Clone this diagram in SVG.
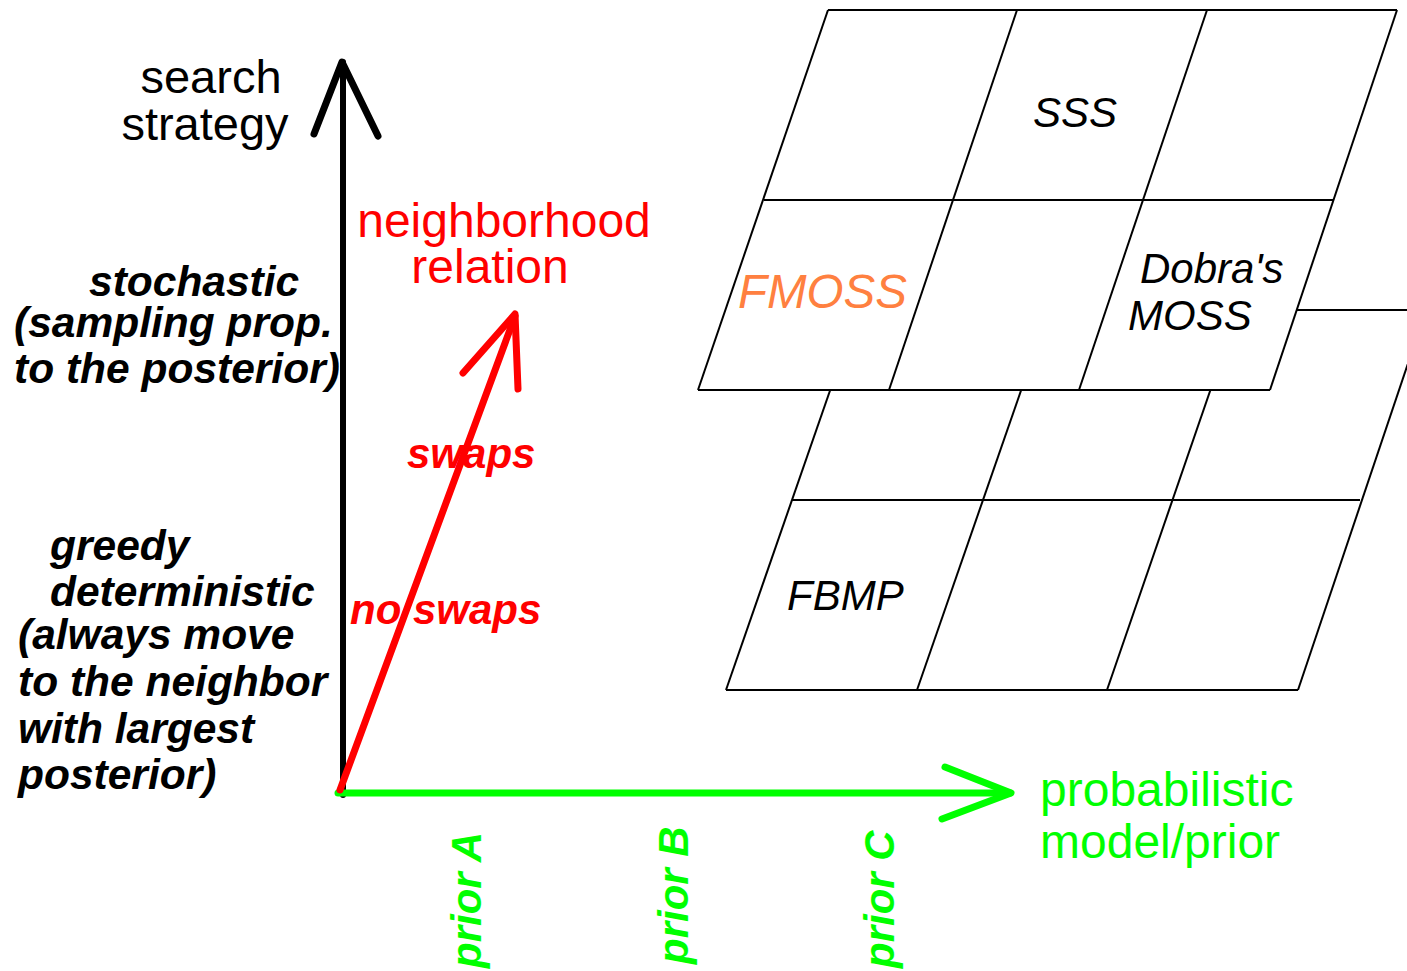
<svg xmlns="http://www.w3.org/2000/svg" width="1407" height="971" viewBox="0 0 1407 971">
  <style>
    text { font-family: "Liberation Sans", Arial, sans-serif; }
    .grid { stroke: #000; stroke-width: 2; fill: none; }
    .cellbg { fill: #fff; stroke: none; }
    .axis-label { font-size: 47px; }
    .mode { font-size: 42.5px; font-weight: bold; font-style: italic; fill: #000; }
    .nbr { font-size: 42px; font-weight: bold; font-style: italic; fill: #ff0000; }
    .method { font-size: 42px; font-style: italic; fill: #000; }
    .prior { font-size: 42px; font-weight: bold; font-style: italic; fill: #00ff00; }
    .arrow { fill: none; stroke-linecap: round; stroke-linejoin: round; }
  </style>

  <rect width="1407" height="971" fill="#fff"/>

  <!-- lower plane of methods (partly hidden behind the upper one) -->
  <g id="lower-plane">
    <polygon class="cellbg" points="858,310 1426,310 1298,690 726,690"/>
    <line class="grid" x1="858" y1="310" x2="1426" y2="310"/>
    <line class="grid" x1="792" y1="500" x2="1360" y2="500"/>
    <line class="grid" x1="726" y1="690" x2="1298" y2="690"/>
    <line class="grid" x1="858" y1="310" x2="726" y2="690"/>
    <line class="grid" x1="1049" y1="310" x2="917" y2="690"/>
    <line class="grid" x1="1238" y1="310" x2="1107" y2="690"/>
    <line class="grid" x1="1426" y1="310" x2="1298" y2="690"/>
  </g>

  <!-- upper plane of methods -->
  <g id="upper-plane">
    <polygon class="cellbg" points="828,10 1397,10 1270,390 698,390"/>
    <line class="grid" x1="828" y1="10" x2="1397" y2="10"/>
    <line class="grid" x1="764" y1="200" x2="1333" y2="200"/>
    <line class="grid" x1="698" y1="390" x2="1270" y2="390"/>
    <line class="grid" x1="828" y1="10" x2="698" y2="390"/>
    <line class="grid" x1="1017" y1="10" x2="889" y2="390"/>
    <line class="grid" x1="1207" y1="10" x2="1079" y2="390"/>
    <line class="grid" x1="1397" y1="10" x2="1270" y2="390"/>
  </g>

  <!-- method names in the cells -->
  <g id="node-sss"><text class="method" x="1033" y="127">SSS</text></g>
  <g id="node-fmoss"><text class="method" x="738" y="308" style="fill:#ff8040;font-size:47.5px">FMOSS</text></g>
  <g id="node-dobra"><text class="method" x="1140" y="283">Dobra's</text><text class="method" x="1128" y="330">MOSS</text></g>
  <g id="node-fbmp"><text class="method" x="787" y="610">FBMP</text></g>

  <!-- axis titles -->
  <g id="label-search">
    <text class="axis-label" x="211" y="93" text-anchor="middle">search</text>
    <text class="axis-label" x="205" y="140" text-anchor="middle">strategy</text>
  </g>
  <g id="label-neighborhood">
    <text class="axis-label" x="504" y="237" text-anchor="middle" fill="#ff0000" style="font-size:48px">neighborhood</text>
    <text class="axis-label" x="490" y="283" text-anchor="middle" fill="#ff0000" style="font-size:48px">relation</text>
  </g>
  <g id="label-model">
    <text class="axis-label" x="1040" y="806" fill="#00ff00" style="font-size:48px">probabilistic</text>
    <text class="axis-label" x="1040" y="858" fill="#00ff00" style="font-size:48px">model/prior</text>
  </g>

  <!-- search strategy values -->
  <g id="label-stochastic">
    <text class="mode" x="89" y="296">stochastic</text>
    <text class="mode" x="14" y="337">(sampling prop.</text>
    <text class="mode" x="14" y="383">to the posterior)</text>
  </g>
  <g id="label-greedy">
    <text class="mode" x="50" y="560">greedy</text>
    <text class="mode" x="50" y="606">deterministic</text>
    <text class="mode" x="18" y="649">(always move</text>
    <text class="mode" x="18" y="696">to the neighbor</text>
    <text class="mode" x="18" y="743">with largest</text>
    <text class="mode" x="18" y="789">posterior)</text>
  </g>

  <!-- neighborhood values -->
  <g id="label-swaps"><text class="nbr" x="407" y="468">swaps</text></g>
  <g id="label-noswaps"><text class="nbr" x="350" y="624">no swaps</text></g>

  <!-- prior values along the model axis -->
  <g id="label-priorA"><text class="prior" transform="translate(481,968) rotate(-90)">prior A</text></g>
  <g id="label-priorB"><text class="prior" transform="translate(688,964) rotate(-90)">prior B</text></g>
  <g id="label-priorC"><text class="prior" transform="translate(894,968) rotate(-90)">prior C</text></g>

  <!-- axes -->
  <g id="connectors">
    <g id="axis-search">
      <line class="arrow" x1="343" y1="795" x2="343" y2="62" stroke="#000" stroke-width="6"/>
      <polyline class="arrow" points="314,134 342,62 378,136" stroke="#000" stroke-width="7"/>
    </g>
    <g id="axis-model">
      <line class="arrow" x1="338" y1="793" x2="1010" y2="793" stroke="#00ff00" stroke-width="7"/>
      <polyline class="arrow" points="945,767 1011,793 942,819" stroke="#00ff00" stroke-width="7"/>
    </g>
    <g id="axis-neighborhood">
      <line class="arrow" x1="340" y1="790" x2="515" y2="316" stroke="#ff0000" stroke-width="7"/>
      <polyline class="arrow" points="463,373 515,314 518,389" stroke="#ff0000" stroke-width="7"/>
    </g>
  </g>
</svg>
